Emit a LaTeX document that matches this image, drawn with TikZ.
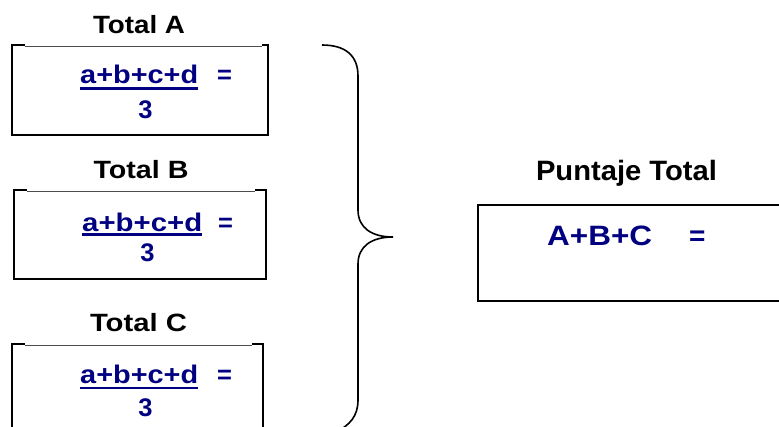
\documentclass[tikz,border=0pt]{standalone}
\usepackage{fontspec}
\setmainfont{Liberation Sans}
\definecolor{navy}{RGB}{0,0,128}
\newcommand{\fitw}[2]{\resizebox{#1}{\height}{#2}}
\tikzset{
  lbl/.style={inner sep=0pt, anchor=base, font=\bfseries\fontsize{25}{25}\selectfont, text=black},
  frm/.style={inner sep=0pt, anchor=base west, font=\bfseries\fontsize{25.5}{25.5}\selectfont, text=navy},
  side/.style={line width=2pt, black},
  thin/.style={line width=1pt, black!70},
  uline/.style={line width=2.6pt, navy},
}
\begin{document}
\begin{tikzpicture}[x=1pt,y=-1pt]
\useasboundingbox (0,0) rectangle (779,426);
\clip (0,0) rectangle (779,426);
% ---------- Box A ----------
\node[lbl] (tA) at (139,33) {\fitw{92pt}{Total A}};
\draw[thin] (25,46.5) -- (262,46.5);
\draw[side] (25,45) -- (12,45) -- (12,135) -- (268,135) -- (268,45) -- (262,45);
\node[frm] (fA) at (80,83.3) {\fitw{118pt}{a+b+c+d}};
\draw[uline] (fA.base west) ++(0,5) coordinate (uA1) -- ++(118,0) coordinate (uA2);
\node[frm] (eA) at (217,83.3) {=};
\node[frm, anchor=base] (dA) at (145.5,118) {3};
% ---------- Box B ----------
\node[lbl] (tB) at (141,178) {\fitw{95pt}{Total B}};
\draw[thin] (27,191.5) -- (255,191.5);
\draw[side] (27,190) -- (14.3,190) -- (14.3,279) -- (266,279) -- (266,190) -- (255,190);
\node[frm] (fB) at (82,231.7) {\fitw{120pt}{a+b+c+d}};
\draw[uline] (fB.base west) ++(0,3) coordinate (uB1) -- ++(120,0) coordinate (uB2);
\node[frm] (eB) at (218,231.7) {=};
\node[frm, anchor=base] (dB) at (147.5,261.7) {3};
% ---------- Box C ----------
\node[lbl] (tC) at (138.5,331.7) {\fitw{97pt}{Total C}};
\draw[thin] (25,345.5) -- (252,345.5);
\draw[side] (25,344.3) -- (11.5,344.3) -- (11.5,440) (263,440) -- (263,344.3) -- (252,344.3);
\node[frm] (fC) at (80,383.3) {\fitw{118pt}{a+b+c+d}};
\draw[uline] (fC.base west) ++(0,4.5) coordinate (uC1) -- ++(118,0) coordinate (uC2);
\node[frm] (eC) at (217,383.3) {=};
\node[frm, anchor=base] (dC) at (145.5,416.7) {3};
% ---------- Brace ----------
\draw[line width=1.6pt, black]
  (322,45) .. controls (346,45) and (358,56) .. (358,76)
  -- (358,210) .. controls (358,228) and (372,237) .. (393,237)
  .. controls (372,237) and (358,246) .. (358,264)
  -- (358,400) .. controls (358,416) and (350,425) .. (336,432);
% ---------- Puntaje Total ----------
\node[lbl, font=\bfseries\fontsize{28}{28}\selectfont] (tP) at (626.5,180) {\fitw{181pt}{Puntaje Total}};
\draw[side] (790,205) -- (478.3,205) -- (478.3,301) -- (790,301);
\node[frm, font=\bfseries\fontsize{28}{28}\selectfont] (fP) at (547,245) {\fitw{105pt}{A+B+C}};
\node[frm, font=\bfseries\fontsize{28}{28}\selectfont] (eP) at (689,245) {=};
\end{tikzpicture}
\end{document}
